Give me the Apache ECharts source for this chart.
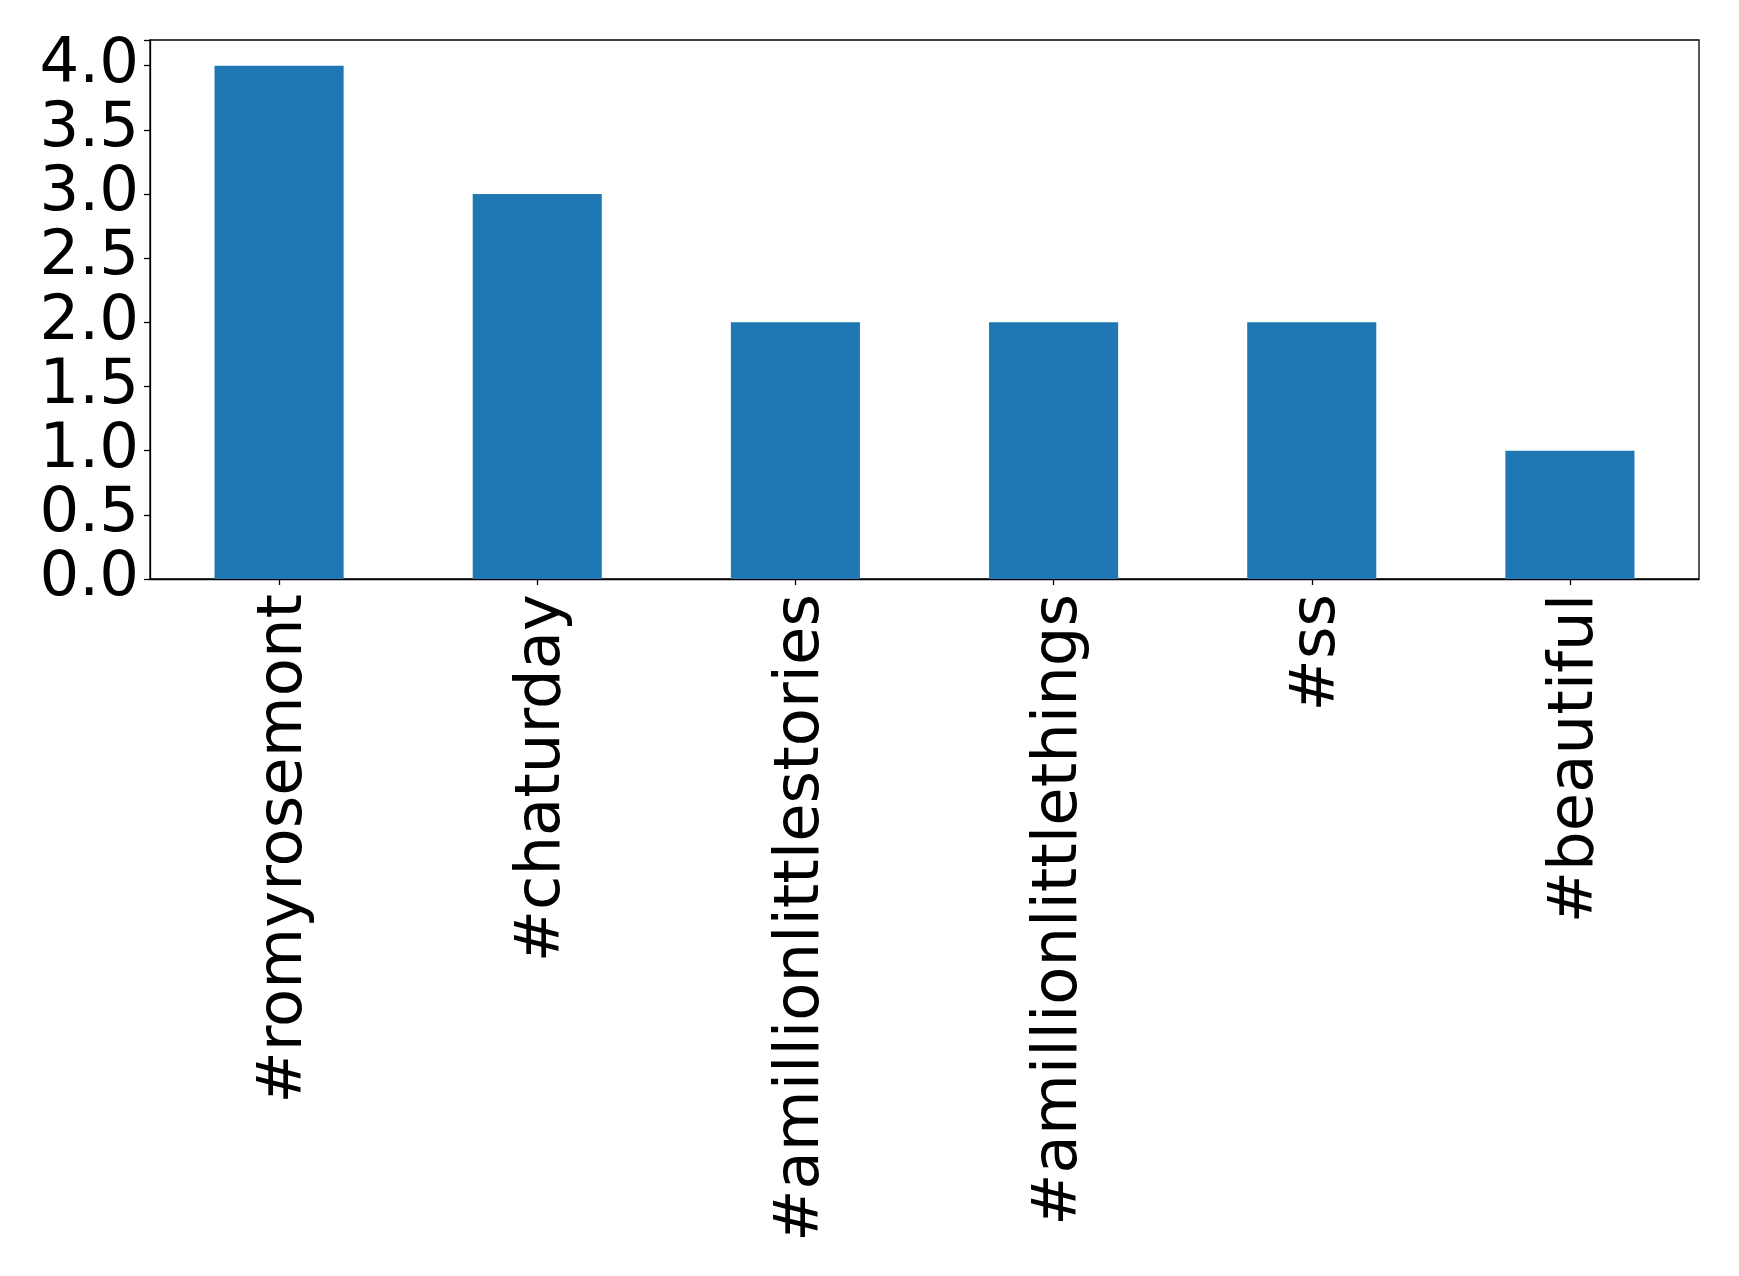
<!DOCTYPE html>
<html>
<head>
<meta charset="utf-8">
<script src="https://cdn.jsdelivr.net/npm/echarts@6/dist/echarts.min.js"></script>
<style>
html,body{margin:0;padding:0;background:#fff;}
#chart{width:1739px;height:1276px;}
</style>
</head>
<body>
<div id="chart"></div>
<script>
const categories = ['#romyrosemont', '#chaturday', '#amillionlittlestories', '#amillionlittlethings', '#ss', '#beautiful'];
const counts = [4, 3, 2, 2, 2, 1];
const yTicks = [0, 0.5, 1.0, 1.5, 2.0, 2.5, 3.0, 3.5, 4.0];

const chart = echarts.init(document.getElementById('chart'), null, {renderer: 'canvas'});
const font = 'DejaVu Sans';
chart.setOption({
  animation: false,
  backgroundColor: '#ffffff',
  grid: {
    left: 150, right: 40, top: 40, bottom: 697,
    show: true, borderColor: '#000', borderWidth: 1.3, backgroundColor: 'transparent'
  },
  xAxis: {
    type: 'category',
    data: categories,
    boundaryGap: true,
    axisLine: {show: true, lineStyle: {color: '#000', width: 1.3}},
    axisTick: {show: true, alignWithLabel: true, length: 6, lineStyle: {color: '#000', width: 1.3}},
    axisLabel: {
      rotate: 90, interval: 0, margin: 15,
      fontFamily: font, fontSize: 62.5, color: '#000',
      formatter: function (v) { return '{a|' + v + '}'; },
      rich: {
        a: {fontFamily: font, fontSize: 62.5, color: '#000', padding: [12, 0, 0, 0]}
      }
    },
    splitLine: {show: false}
  },
  yAxis: {
    type: 'value',
    min: 0, max: 4.2, interval: 0.5,
    axisLine: {show: true, lineStyle: {color: '#000', width: 1.3}},
    axisTick: {show: true, length: 6, lineStyle: {color: '#000', width: 1.3}},
    axisLabel: {
      margin: 11,
      fontFamily: font, fontSize: 62.5, color: '#000',
      formatter: function (v) { return yTicks.indexOf(v) >= 0 ? v.toFixed(1) : ''; }
    },
    splitLine: {show: false}
  },
  series: [{
    type: 'bar',
    data: counts,
    barWidth: '50%',
    itemStyle: {color: '#1f77b4'}
  }]
});
</script>
</body>
</html>
